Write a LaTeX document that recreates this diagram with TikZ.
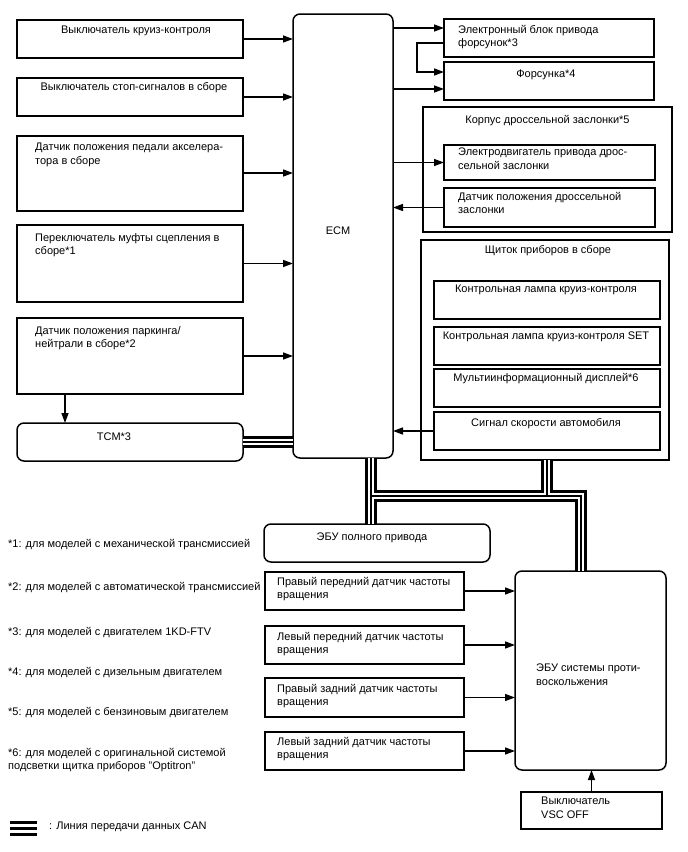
\documentclass[tikz,border=0pt]{standalone}
\usepackage{fontspec}
\setmainfont{Liberation Sans}
\usetikzlibrary{arrows.meta,calc}
\begin{document}
\begin{tikzpicture}[x=1pt,y=-1pt,
  box/.style={draw, line width=1.5pt, fill=white, inner sep=0pt, outer sep=0pt, anchor=north west},
  rbox/.style={box, rounded corners=7pt},
  txt/.style={inner sep=0pt, font=\fontsize{11}{13.5}\selectfont, align=left},
  arr/.style={line width=1.4pt, -{Triangle[length=10pt,width=7pt]}},
  canA/.style={line width=12pt, line join=miter},
  canB/.style={white, line width=6.6pt, line join=miter},
  canC/.style={line width=2pt, line join=miter}]
\useasboundingbox (0,0) rectangle (688,852);

% left column
\node[box, minimum width=226pt, minimum height=38pt] (b1) at (17,20) {};
\node[box, minimum width=226pt, minimum height=38pt] (b2) at (17,78) {};
\node[box, minimum width=226pt, minimum height=75pt] (b3) at (17,136) {};
\node[box, minimum width=226pt, minimum height=77pt] (b4) at (17,225) {};
\node[box, minimum width=226pt, minimum height=76pt] (b5) at (17,318) {};
\node[rbox, minimum width=226pt, minimum height=38pt] (tcm) at (17,423) {};
\node[rbox, minimum width=100pt, minimum height=444pt] (ecm) at (293,14) {};

% right top
\node[box, minimum width=210pt, minimum height=38pt] (inj) at (444,19) {};
\node[box, minimum width=210pt, minimum height=38pt] (fors) at (444,62) {};
\node[box, minimum width=249pt, minimum height=125pt] (thr) at (423,107) {};
\node[box, minimum width=211pt, minimum height=35pt] (thm) at (444,145) {};
\node[box, minimum width=211pt, minimum height=39pt] (ths) at (444,188) {};

% instrument cluster
\node[box, minimum width=248pt, minimum height=220pt] (clu) at (421,240) {};
\node[box, minimum width=226pt, minimum height=38pt] (c1) at (434,281) {};
\node[box, minimum width=226pt, minimum height=38pt] (c2) at (434,327) {};
\node[box, minimum width=226pt, minimum height=38pt] (c3) at (434,369) {};
\node[box, minimum width=226pt, minimum height=38pt] (c4) at (434,412) {};

% bottom
\node[rbox, minimum width=226pt, minimum height=38pt] (ecu4) at (264,524) {};
\node[rbox, minimum width=151pt, minimum height=199pt] (abs) at (515,571) {};
\node[box, minimum width=199pt, minimum height=38pt] (w1) at (265,572) {};
\node[box, minimum width=199pt, minimum height=38pt] (w2) at (265,626) {};
\node[box, minimum width=199pt, minimum height=39pt] (w3) at (265,678) {};
\node[box, minimum width=199pt, minimum height=38pt] (w4) at (265,732) {};
\node[box, minimum width=141pt, minimum height=37pt] (vsc) at (521,792) {};

% texts
\node[txt, anchor=north] at ($(b1.north)+(6,6)$) {Выключатель круиз-контроля};
\node[txt, anchor=north] at ($(b2.north)+(4,4)$) {Выключатель стоп-сигналов в сборе};
\node[txt, anchor=north west] at ($(b3.north west)+(18,7)$) {Датчик положения педали акселера-\\тора в сборе};
\node[txt, anchor=north west] at ($(b4.north west)+(18,8)$) {Переключатель муфты сцепления в\\сборе*1};
\node[txt, anchor=north west] at ($(b5.north west)+(18,8)$) {Датчик положения паркинга/\\нейтрали в сборе*2};
\node[txt, anchor=north] at ($(tcm.north west)+(97,10)$) {TCM*3};
\node[txt, anchor=north] at ($(ecm.north)+(-5,213)$) {ECM};

\node[txt, anchor=north west] at ($(inj.north west)+(14,6)$) {Электронный блок привода\\форсунок*3};
\node[txt, anchor=north] at ($(fors.north)+(-3,8)$) {Форсунка*4};
\node[txt, anchor=north] at ($(thr.north)+(0,8)$) {Корпус дроссельной заслонки*5};
\node[txt, anchor=north west] at ($(thm.north west)+(14,3)$) {Электродвигатель привода дрос-\\сельной заслонки};
\node[txt, anchor=north west] at ($(ths.north west)+(14,4)$) {Датчик положения дроссельной\\заслонки};

\node[txt, anchor=north] at ($(clu.north)+(3,5)$) {Щиток приборов в сборе};
\node[txt, anchor=north] at ($(c1.north)+(-1,4)$) {Контрольная лампа круиз-контроля};
\node[txt, anchor=north] at ($(c2.north)+(-1,5)$) {Контрольная лампа круиз-контроля SET};
\node[txt, anchor=north] at ($(c3.north)+(-1,4)$) {Мультиинформационный дисплей*6};
\node[txt, anchor=north] at ($(c4.north)+(-1,6)$) {Сигнал скорости автомобиля};

\node[txt, anchor=north] at ($(ecu4.north)+(-5,9)$) {ЭБУ полного привода};
\node[txt, anchor=north west] at ($(abs.north west)+(21,93)$) {ЭБУ системы проти-\\воскольжения};
\node[txt, anchor=north west] at ($(w1.north west)+(12,5)$) {Правый передний датчик частоты\\вращения};
\node[txt, anchor=north west] at ($(w2.north west)+(12,6)$) {Левый передний датчик частоты\\вращения};
\node[txt, anchor=north west] at ($(w3.north west)+(12,6)$) {Правый задний датчик частоты\\вращения};
\node[txt, anchor=north west] at ($(w4.north west)+(12,5)$) {Левый задний датчик частоты\\вращения};
\node[txt, anchor=north west] at ($(vsc.north west)+(20,5)$) {Выключатель\\VSC OFF};

% footnotes
\node[txt, anchor=west] (f1) at (8,545) {*1: для моделей с механической трансмиссией};
\node[txt, anchor=west] (f2) at (8,588) {*2: для моделей с автоматической трансмиссией};
\node[txt, anchor=west] (f3) at (8,633) {*3: для моделей с двигателем 1KD-FTV};
\node[txt, anchor=west] (f4) at (8,673) {*4: для моделей с дизельным двигателем};
\node[txt, anchor=west] (f5) at (8,713) {*5: для моделей с бензиновым двигателем};
\node[txt, anchor=north west] (f6) at (8,748) {*6: для моделей с оригинальной системой\\подсветки щитка приборов "Optitron"};

% legend
\coordinate (lg1) at (10,822);
\coordinate (lg2) at (37,822);
\foreach \dy in {0,6,12}{
  \draw[line width=3pt] ($(lg1)+(0,\dy)$) -- ($(lg2)+(0,\dy)$);
}
\node[txt, anchor=west] (lgt) at (49,827) {: Линия передачи данных CAN};

% arrows into ECM
\draw[arr] (b1.east) -- (b1.east -| ecm.west);
\draw[arr] (b2.east) -- (b2.east -| ecm.west);
\draw[arr] ($(b3.east)+(0,-0.5)$) -- ($(b3.east -| ecm.west)+(0,-0.5)$);
\draw[arr] (b4.east) -- (b4.east -| ecm.west);
\draw[arr] (b5.east) -- (b5.east -| ecm.west);
\draw[arr] ($(b5.south west)+(48,0)$) -- ($(tcm.north west)+(48,0)$);

% ECM right side
\coordinate (i1) at ($(inj.west)+(0,-10)$);
\draw[arr] (i1 -| ecm.east) -- (i1);
\coordinate (i2) at ($(inj.west)+(0,5)$);
\coordinate (f1a) at ($(fors.west)+(0,-9)$);
\draw[arr] (i2) -- ++(-27,0) |- (f1a);
\coordinate (f2a) at ($(fors.west)+(0,8)$);
\draw[arr] (f2a -| ecm.east) -- (f2a);
\draw[arr] (thm.west -| ecm.east) -- (thm.west);
\draw[arr] (ths.west) -- (ths.west -| ecm.east);
\draw[arr] (c4.west) -- (c4.west -| ecm.east);

% ABS inputs
\draw[arr] (w1.east) -- (w1.east -| abs.west);
\draw[arr] (w2.east) -- (w2.east -| abs.west);
\draw[arr] (w3.east) -- (w3.east -| abs.west);
\draw[arr] (w4.east) -- (w4.east -| abs.west);
\draw[arr] (vsc.north) -- (vsc.north |- abs.south);

% CAN bus
\coordinate (ecmS) at ($(ecm.south west)+(78,0)$);
\coordinate (jn) at (581,496);
\coordinate (cluS) at ($(clu.south west)+(126,0)$);
\foreach \s in {canA,canB,canC}{
  \draw[\s] (tcm.east) -- (tcm.east -| ecm.west);
  \draw[\s] (ecmS) -- (ecmS |- ecu4.north);
  \draw[\s] (ecmS) |- (jn) -- (jn |- abs.north);
  \draw[\s] (cluS) -- (cluS |- jn);
}
\end{tikzpicture}
\end{document}
